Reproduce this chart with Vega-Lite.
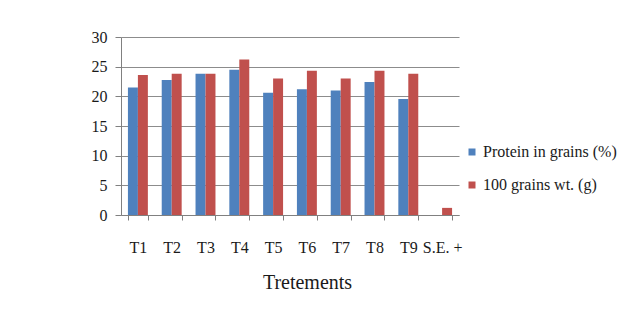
{
  "$schema": "https://vega.github.io/schema/vega-lite/v6.json",
  "autosize": "none",
  "padding": {"left": 121, "top": 37, "right": 162, "bottom": 113},
  "width": 338,
  "height": 178,
  "background": "white",
  "data": {
    "values": [
      {"treatment": "T1", "series": "Protein in grains (%)", "value": 21.5},
      {"treatment": "T1", "series": "100 grains wt. (g)", "value": 23.6},
      {"treatment": "T2", "series": "Protein in grains (%)", "value": 22.75},
      {"treatment": "T2", "series": "100 grains wt. (g)", "value": 23.8},
      {"treatment": "T3", "series": "Protein in grains (%)", "value": 23.8},
      {"treatment": "T3", "series": "100 grains wt. (g)", "value": 23.8},
      {"treatment": "T4", "series": "Protein in grains (%)", "value": 24.5},
      {"treatment": "T4", "series": "100 grains wt. (g)", "value": 26.2},
      {"treatment": "T5", "series": "Protein in grains (%)", "value": 20.6},
      {"treatment": "T5", "series": "100 grains wt. (g)", "value": 23.0},
      {"treatment": "T6", "series": "Protein in grains (%)", "value": 21.2},
      {"treatment": "T6", "series": "100 grains wt. (g)", "value": 24.3},
      {"treatment": "T7", "series": "Protein in grains (%)", "value": 21.0},
      {"treatment": "T7", "series": "100 grains wt. (g)", "value": 23.0},
      {"treatment": "T8", "series": "Protein in grains (%)", "value": 22.4},
      {"treatment": "T8", "series": "100 grains wt. (g)", "value": 24.3},
      {"treatment": "T9", "series": "Protein in grains (%)", "value": 19.55},
      {"treatment": "T9", "series": "100 grains wt. (g)", "value": 23.8},
      {"treatment": "S.E. +", "series": "100 grains wt. (g)", "value": 1.2}
    ]
  },
  "mark": {"type": "bar"},
  "encoding": {
    "x": {
      "field": "treatment",
      "type": "nominal",
      "sort": ["T1", "T2", "T3", "T4", "T5", "T6", "T7", "T8", "T9", "S.E. +"],
      "scale": {"paddingInner": 0.41, "paddingOuter": 0.205},
      "axis": {
        "title": "Tretements",
        "titleFont": "Liberation Serif, serif",
        "titleFontSize": 20,
        "titleFontWeight": "normal",
        "titleColor": "#1a1a1a",
        "titleX": 186,
        "titleY": 67,
        "titleBaseline": "middle",
        "labelAngle": 0,
        "labelFont": "Liberation Serif, serif",
        "labelFontSize": 16,
        "labelColor": "#1a1a1a",
        "labelPadding": 19,
        "tickBand": "extent",
        "tickSize": 5,
        "tickColor": "#808080",
        "domainColor": "#808080"
      }
    },
    "xOffset": {
      "field": "series",
      "type": "nominal",
      "sort": ["Protein in grains (%)", "100 grains wt. (g)"],
      "scale": {"paddingInner": 0, "paddingOuter": 0}
    },
    "y": {
      "field": "value",
      "type": "quantitative",
      "scale": {"domain": [0, 30], "nice": false},
      "axis": {
        "title": null,
        "values": [0, 5, 10, 15, 20, 25, 30],
        "labelFont": "Liberation Serif, serif",
        "labelFontSize": 16,
        "labelColor": "#1a1a1a",
        "labelPadding": 8,
        "tickSize": 6,
        "tickColor": "#808080",
        "domain": true,
        "domainColor": "#808080",
        "grid": true,
        "gridColor": "#8c8c8c",
        "gridWidth": 1
      }
    },
    "color": {
      "field": "series",
      "type": "nominal",
      "sort": ["Protein in grains (%)", "100 grains wt. (g)"],
      "scale": {"range": ["#4F81BD", "#C0504D"]},
      "legend": {
        "title": null,
        "orient": "none",
        "legendX": 343,
        "legendY": 107,
        "symbolType": "square",
        "symbolSize": 49,
        "symbolStrokeWidth": 0,
        "labelFont": "Liberation Serif, serif",
        "labelFontSize": 16,
        "labelColor": "#1a1a1a",
        "labelOffset": 3,
        "rowPadding": 17
      }
    }
  },
  "config": {
    "view": {"stroke": null}
  }
}
